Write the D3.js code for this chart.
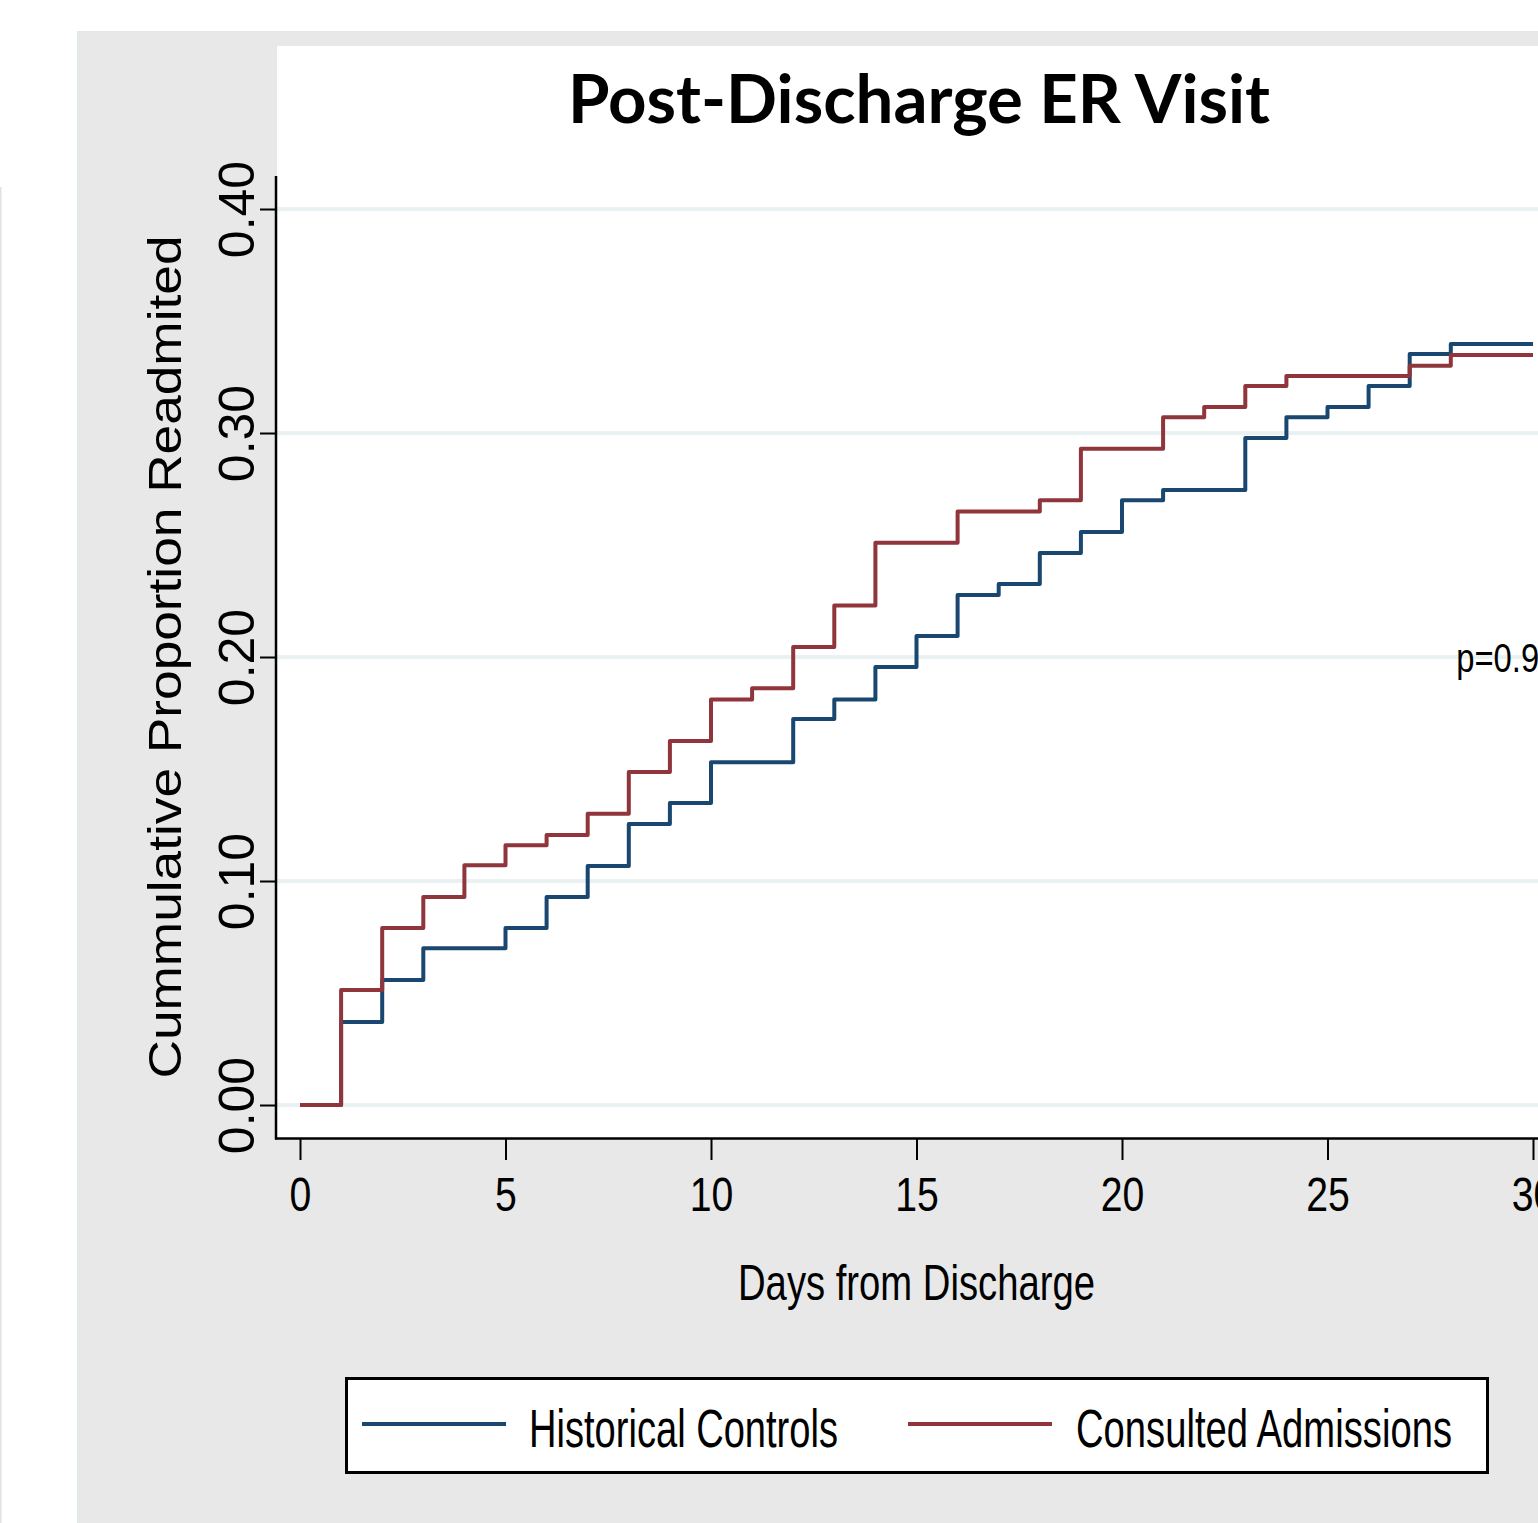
<!DOCTYPE html>
<html>
<head>
<meta charset="utf-8">
<script src="https://cdn.jsdelivr.net/npm/d3@7"></script>
<style>
  body { margin: 0; background: #fff; }
  svg { display: block; }
  .narrow { font-family: "Liberation Sans Narrow", "Arial Narrow", "Liberation Sans", sans-serif; }
</style>
</head>
<body>
<svg id="chart" width="1538" height="1523"></svg>
<script>
// days from discharge at which each step starts
const days = [0, 1, 2, 3, 4, 5, 6, 7, 8, 9, 10, 11, 12, 13, 14, 15, 16, 17, 18, 19, 20, 21, 22, 23, 24, 25, 26, 27, 28, 29, 30];
const historical = [0, 0.037, 0.0558, 0.070, 0.070, 0.079, 0.0929, 0.1067, 0.1254, 0.1348, 0.153, 0.153, 0.1723, 0.181, 0.1955, 0.2094,
  0.2277, 0.2326, 0.2464, 0.2558, 0.270, 0.2746, 0.2746, 0.2978, 0.307, 0.3116, 0.321, 0.3353, 0.3397, 0.3397, 0.3397];
const consulted = [0, 0.0513, 0.079, 0.0929, 0.107, 0.116, 0.1205, 0.130, 0.1487, 0.1625, 0.181, 0.186, 0.2045, 0.223, 0.251, 0.251,
  0.265, 0.265, 0.270, 0.293, 0.293, 0.307, 0.3116, 0.321, 0.3254, 0.3254, 0.3254, 0.330, 0.3348, 0.3348, 0.3348];
const seriesNames = ['Historical Controls', 'Consulted Admissions'];
const seriesColors = ['#1a476f', '#90353b'];
const xTicks = [0, 5, 10, 15, 20, 25, 30];
const yTicks = [0, 0.1, 0.2, 0.3, 0.4];

const svg = d3.select('#chart');

// squeeze text horizontally when no narrow face is installed
const squeeze = (sel, f) => sel.each(function () {
  const w = this.getComputedTextLength();
  d3.select(this).attr('textLength', w * f).attr('lengthAdjust', 'spacingAndGlyphs');
});

// outer grey graph region
svg.append('rect').attr('x', 0).attr('y', 187).attr('width', 1.5).attr('height', 1340).attr('fill', '#e2e2e2');
svg.append('rect').attr('x', 78).attr('y', 32).attr('width', 1500).attr('height', 1520)
  .attr('fill', '#e8e8e8').attr('stroke', '#e1e9eb').attr('stroke-width', 2);
// white plot region
svg.append('rect').attr('x', 277).attr('y', 46).attr('width', 1300).attr('height', 1092).attr('fill', '#fff');

const x = d3.scaleLinear().domain([0, 30]).range([300, 1533]);
const y = d3.scaleLinear().domain([0, 0.4]).range([1105, 209]);

// grid
svg.append('g').selectAll('line').data(yTicks).join('line')
  .attr('x1', 277).attr('x2', 1538)
  .attr('y1', d => y(d)).attr('y2', d => y(d))
  .attr('stroke', '#eaf1f2').attr('stroke-width', 4);

// title
svg.append('text')
  .attr('x', 919).attr('y', 123)
  .attr('text-anchor', 'middle')
  .attr('font-family', 'Lato, "Open Sans", sans-serif')
  .attr('font-weight', 'bold')
  .attr('font-size', 66)
  .attr('textLength', 702).attr('lengthAdjust', 'spacingAndGlyphs')
  .text('Post-Discharge ER Visit');

// step lines
const line = d3.line()
  .x((d, i) => x(days[i]))
  .y(d => y(d))
  .curve(d3.curveStepAfter);
svg.append('g').selectAll('path').data([historical, consulted]).join('path')
  .attr('d', d => line(d))
  .attr('fill', 'none')
  .attr('stroke', (d, i) => seriesColors[i])
  .attr('stroke-width', 4)
  .attr('stroke-linejoin', 'round');

// x axis
const xAxis = svg.append('g').attr('transform', 'translate(0,1138)')
  .call(d3.axisBottom(x).tickValues(xTicks).tickSize(22).tickSizeOuter(0));
xAxis.select('.domain').remove();
xAxis.selectAll('line').attr('stroke', '#000').attr('stroke-width', 2);
xAxis.selectAll('text')
  .attr('class', 'narrow').attr('font-family', null)
  .attr('y', 73).attr('dy', 0)
  .attr('font-size', 49).attr('fill', '#000')
  .call(squeeze, 0.8);
svg.append('line').attr('x1', 275).attr('x2', 1538).attr('y1', 1138.5).attr('y2', 1138.5)
  .attr('stroke', '#000').attr('stroke-width', 2.5);

// y axis
const yAxis = svg.append('g').attr('transform', 'translate(276,0)')
  .call(d3.axisLeft(y).tickValues(yTicks).tickFormat(d3.format('.2f')).tickSize(16).tickSizeOuter(0));
yAxis.select('.domain').remove();
yAxis.selectAll('line').attr('stroke', '#000').attr('stroke-width', 2);
yAxis.selectAll('text')
  .attr('transform', 'rotate(-90)')
  .attr('x', 0).attr('y', -22).attr('dy', 0)
  .attr('text-anchor', 'middle')
  .attr('font-family', '"Liberation Sans", Arial, sans-serif')
  .attr('font-size', 50).attr('fill', '#000');
svg.append('line').attr('x1', 276).attr('x2', 276).attr('y1', 176).attr('y2', 1139.5)
  .attr('stroke', '#000').attr('stroke-width', 2.5);

// axis titles
svg.append('text')
  .attr('transform', 'translate(181,657) rotate(-90)')
  .attr('text-anchor', 'middle')
  .attr('font-family', '"Liberation Sans", Arial, sans-serif')
  .attr('font-size', 46)
  .attr('textLength', 843).attr('lengthAdjust', 'spacingAndGlyphs')
  .text('Cummulative Proportion Readmited');

svg.append('text').attr('class', 'narrow')
  .attr('x', x(15)).attr('y', 1300)
  .attr('text-anchor', 'middle')
  .attr('font-size', 50)
  .attr('textLength', 357).attr('lengthAdjust', 'spacingAndGlyphs')
  .text('Days from Discharge');

// p-value annotation
svg.append('text').attr('class', 'narrow')
  .attr('x', x(28.13)).attr('y', y(0.2) + 15)
  .attr('font-size', 41)
  .text('p=0.93')
  .call(squeeze, 0.8);

// legend
const legend = svg.append('g');
legend.append('rect').attr('x', 346.5).attr('y', 1378.5).attr('width', 1141).attr('height', 94)
  .attr('fill', '#fff').attr('stroke', '#000').attr('stroke-width', 3);
const legendItems = [
  { x0: 362, x1: 506, tx: 529, tw: 309 },
  { x0: 908, x1: 1052, tx: 1076, tw: 376 }
];
legendItems.forEach((it, i) => {
  legend.append('line').attr('x1', it.x0).attr('x2', it.x1).attr('y1', 1424).attr('y2', 1424)
    .attr('stroke', seriesColors[i]).attr('stroke-width', 4);
  legend.append('text').attr('class', 'narrow')
    .attr('x', it.tx).attr('y', 1447)
    .attr('font-size', 53)
    .attr('textLength', it.tw).attr('lengthAdjust', 'spacingAndGlyphs')
    .text(seriesNames[i]);
});
</script>
</body>
</html>
